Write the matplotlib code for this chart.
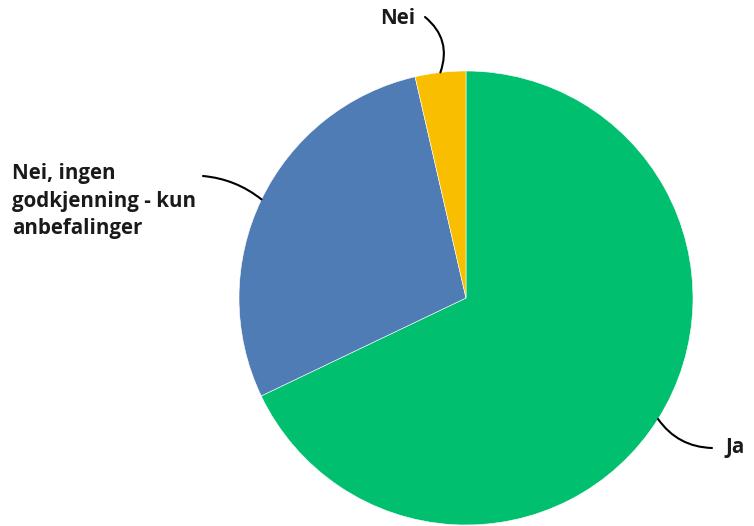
import matplotlib

matplotlib.use("Agg")
import matplotlib.pyplot as plt
import numpy as np

# share of answers (percent)
labels = ["Ja", "Nei, ingen\ngodkjenning - kun\nanbefalinger", "Nei"]
values = [67.9, 28.5, 3.6]
colors = ["#00BF6F", "#507CB6", "#F9BE00"]

W, H = 754, 526
CX, CY, R = 466, H - 298, 227

plt.rcParams.update({"font.family": ["Open Sans", "DejaVu Sans"]})

fig = plt.figure(figsize=(W / 100, H / 100), dpi=100)
ax = fig.add_axes([0, 0, 1, 1])
wedges, _ = ax.pie(values, colors=colors, startangle=90, counterclock=False,
                   center=(CX, CY), radius=R,
                   wedgeprops=dict(linewidth=0.4, edgecolor="white"))
ax.set_xlim(0, W)
ax.set_ylim(0, H)
ax.set_aspect("equal")
ax.axis("off")

# label text anchor (left, centre of block), leader start and curvature
label_pos = {"Ja": ((725, H - 447), (712, H - 448), -0.25),
             "Nei": ((380, H - 18), (425, H - 17), -0.35),
             labels[1]: ((12, H - 201), (203, H - 176), -0.15)}

for w, lab in zip(wedges, labels):
    mid = np.deg2rad((w.theta1 + w.theta2) / 2)
    ex, ey = CX + R * np.cos(mid), CY + R * np.sin(mid)
    (tx, ty), (lx, ly), rad = label_pos[lab]
    ax.text(tx, ty, lab, ha="left", va="center", fontsize=14.8,
            fontweight="bold", color="#1a1a1a", linespacing=1.42)
    ax.annotate("", xy=(ex, ey), xytext=(lx, ly),
                arrowprops=dict(arrowstyle="-", color="black", lw=1.5,
                                shrinkA=0, shrinkB=0,
                                connectionstyle=f"arc3,rad={rad}"))

fig.savefig("out.png", dpi=100)
